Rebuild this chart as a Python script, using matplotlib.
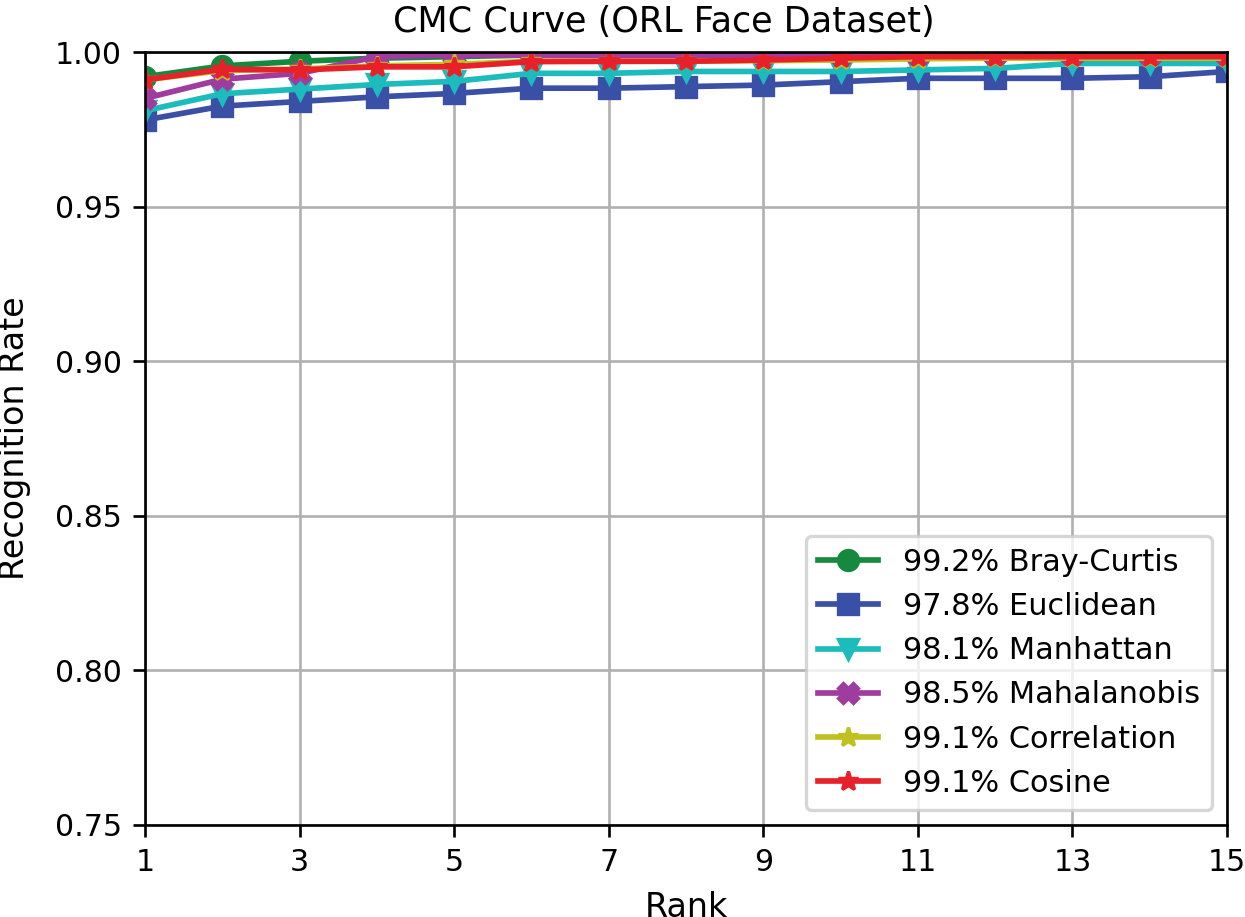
import matplotlib.pyplot as plt

# Rangos
ranks = list(range(1, 16))

# Tasas de reconocimiento por métrica
bray_curtis = [0.992, 0.9955, 0.997, 0.998, 0.9985, 0.999, 0.999, 0.999, 0.999, 0.9995,
               0.9995, 0.9995, 0.9995, 1.0, 1.0]
euclidean = [0.978, 0.9825, 0.984, 0.9855, 0.9866, 0.9883, 0.9883, 0.9888, 0.9893, 0.9904,
             0.9915, 0.9915, 0.9915, 0.992, 0.9937]
manhattan = [0.981, 0.9865, 0.988, 0.9895, 0.9905, 0.9931, 0.9931, 0.9937, 0.9937, 0.9937,
             0.9942, 0.9947, 0.9963, 0.9963, 0.9963]
mahalanobis = [0.985, 0.9912, 0.9931, 0.9985, 0.999, 0.999, 0.999, 0.999, 0.999, 0.999,
               0.999, 0.999, 0.999, 0.999, 0.999]
correlation = [0.991, 0.994, 0.9945, 0.9955, 0.996, 0.997, 0.997, 0.997, 0.9972, 0.9974,
               0.9978, 0.998, 0.998, 0.998, 0.998]
cosine = [0.991, 0.9944, 0.9942, 0.9952, 0.9952, 0.9969, 0.997, 0.997, 0.9974, 0.998,
          0.9985, 0.9985, 0.9985, 0.9985, 0.9985]

series = [
    ('99.2% Bray-Curtis', bray_curtis, '#158a3e', 'o'),
    ('97.8% Euclidean', euclidean, '#3a50a6', 's'),
    ('98.1% Manhattan', manhattan, '#1cbcbc', 'v'),
    ('98.5% Mahalanobis', mahalanobis, '#a03ca0', 'X'),
    ('99.1% Correlation', correlation, '#c0c020', '*'),
    ('99.1% Cosine', cosine, '#e8202a', '*'),
]

fig = plt.figure(figsize=(1245 / 240, 917 / 240), dpi=240)
ax = fig.add_axes([145 / 1245, 1 - 825 / 917, (1227 - 145) / 1245, (825 - 52) / 917])

for label, vals, color, marker in series:
    ax.plot(ranks, vals, marker=marker, color=color, label=label, linewidth=1.7, markersize=6)

ax.set_xlim(1, 15)
ax.set_ylim(0.75, 1.0)
ax.set_xticks(range(1, 16, 2))
ax.tick_params(labelsize=9)
ax.grid(True)

ax.set_xlabel('Rank')
ax.set_ylabel('Recognition Rate', labelpad=7)
ax.set_title('CMC Curve (ORL Face Dataset)', fontsize=10.5, x=0.48)
ax.legend(loc='lower right', fontsize=9.1)

fig.savefig('out.png', dpi=240)
